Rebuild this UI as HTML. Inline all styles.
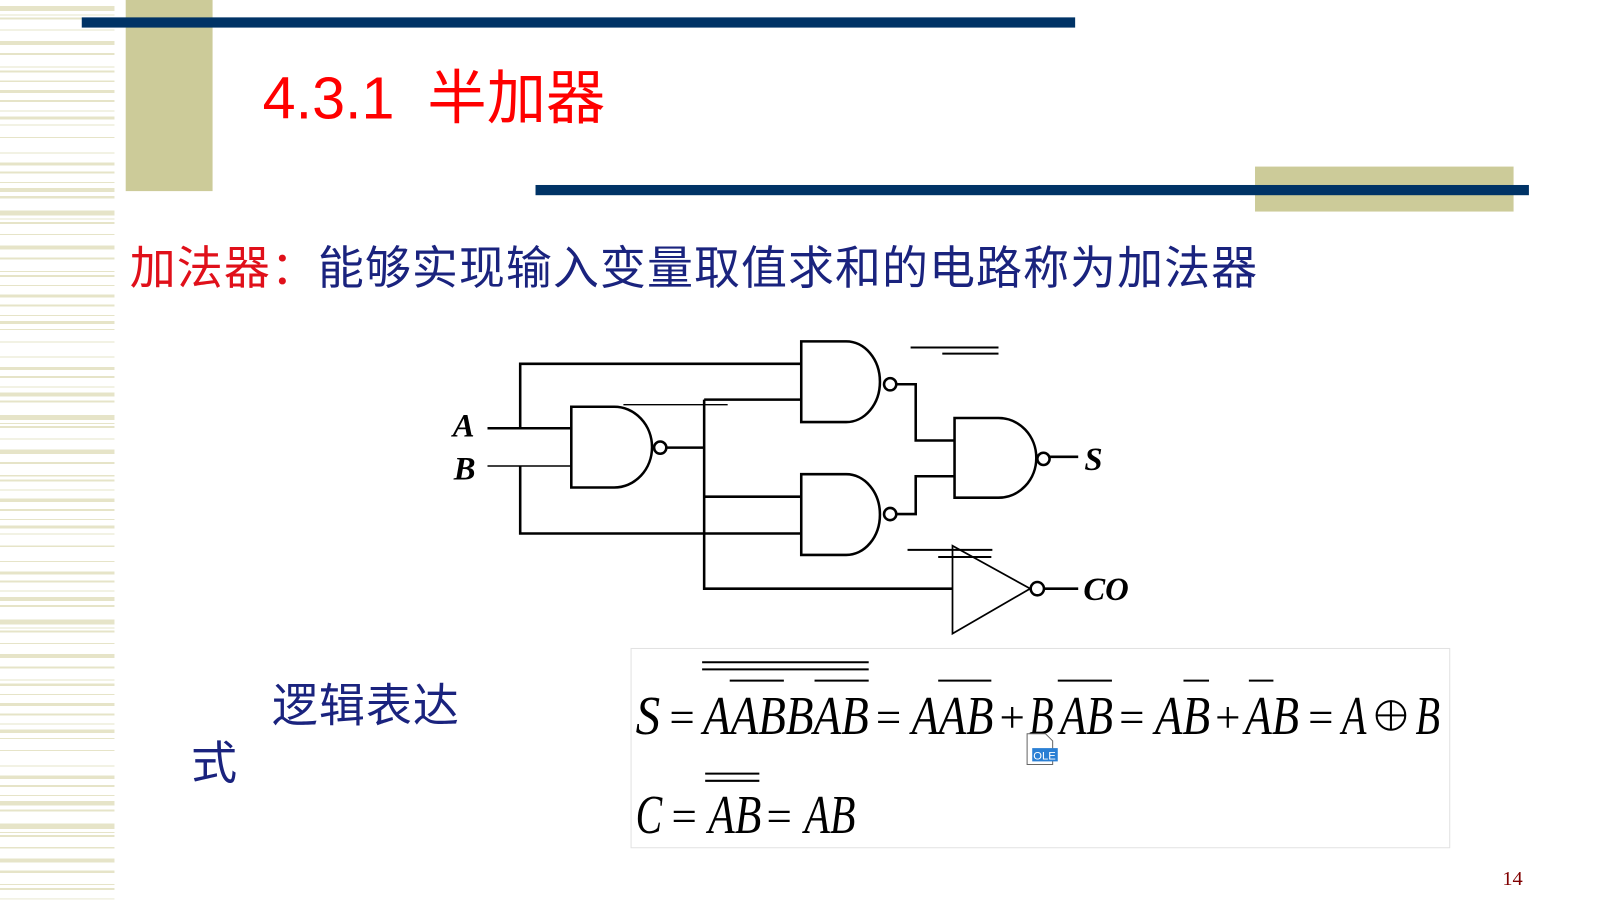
<!DOCTYPE html>
<html><head><meta charset="utf-8"><style>
html,body{margin:0;padding:0;background:#fff;}
body{width:1600px;height:900px;position:relative;overflow:hidden;font-family:"Liberation Sans","Noto Sans CJK SC",sans-serif;}
#wrap{position:absolute;left:0;top:0;width:1600px;height:900px;transform:scale(1.022);transform-origin:0 0;}
.stripes{position:absolute;left:0;top:0;width:112px;height:880px;
background:repeating-linear-gradient(to bottom,
#fff 0,#fff 6px,#e6e4c8 6px,#e6e4c8 11px,#fff 11px,#fff 14px,#e6e4c8 14px,#e6e4c8 15px,#fff 15px,#fff 17px,#e6e4c8 17px,#e6e4c8 19px,#fff 19px,#fff 29px,#e6e4c8 29px,#e6e4c8 30px,#fff 30px,#fff 40px,#e6e4c8 40px,#e6e4c8 44px,#fff 44px,#fff 52px,#e6e4c8 52px,#e6e4c8 54px,#fff 54px,#fff 65px,#e6e4c8 65px,#e6e4c8 66px,#fff 66px,#fff 69px,#e6e4c8 69px,#e6e4c8 71px,#fff 71px,#fff 79px,#e6e4c8 79px,#e6e4c8 80px,#fff 80px,#fff 88px,#e6e4c8 88px,#e6e4c8 91px,#fff 91px,#fff 98px,#e6e4c8 98px,#e6e4c8 100px,#fff 100px,#fff 108px,#e6e4c8 108px,#e6e4c8 109px,#fff 109px,#fff 114px,#e6e4c8 114px,#e6e4c8 117px,#fff 117px,#fff 122px,#e6e4c8 122px,#e6e4c8 123px,#fff 123px,#fff 134px,#e6e4c8 134px,#e6e4c8 135px,#fff 135px,#fff 149px,#e6e4c8 149px,#e6e4c8 150px,#fff 150px,#fff 159px,#e6e4c8 159px,#e6e4c8 162px,#fff 162px,#fff 168px,#e6e4c8 168px,#e6e4c8 170px,#fff 170px,#fff 178px,#e6e4c8 178px,#e6e4c8 179px,#fff 179px,#fff 184px,#e6e4c8 184px,#e6e4c8 188px,#fff 188px,#fff 192px,#e6e4c8 192px,#e6e4c8 194px,#fff 194px,#fff 200px);}
.abs{position:absolute;}
</style></head><body>
<div id="wrap">
<div class="stripes"></div>
<div class="abs" style="left:123px;top:0;width:85px;height:187px;background:#cccb99;"></div>
<div class="abs" style="left:80px;top:17px;width:972px;height:10px;background:#003366;"></div>
<div class="abs" style="left:1228px;top:163px;width:253px;height:44px;background:#cccb99;"></div>
<div class="abs" style="left:524px;top:181px;width:972px;height:10px;background:#003366;"></div>

<div class="abs" style="left:257px;top:62px;font-size:58px;color:#ff0000;white-space:nowrap;line-height:70px;">4.3.1&nbsp; 半加器</div>
<div class="abs" style="left:127px;top:234px;font-size:45px;color:#1a237e;white-space:nowrap;line-height:58px;letter-spacing:1px;"><span style="color:#e0101a">加法器：</span>能够实现输入变量取值求和的电路称为加法器</div>
<div class="abs" style="left:266px;top:662px;font-size:45px;color:#1a237e;line-height:58px;letter-spacing:1px;">逻辑表达</div>
<div class="abs" style="left:187px;top:718px;font-size:45px;color:#1a237e;line-height:58px;">式</div>

<div class="abs" style="left:617px;top:634px;width:800px;height:194px;border:1px solid #e2e2e2;"></div>

<svg class="abs" style="left:0;top:0" width="1600" height="900" xmlns="http://www.w3.org/2000/svg">
<g fill="none" stroke="#000" stroke-width="2.5">
 <path d="M477 419H559 M509 419V356H784 M509 456V522H784 M652 438H689 M689 391V576H932 M689 391H784 M689 486H784 M877 376H896V431H934 M877 503H896V466H934 M1027 447H1055 M1021 576H1055"/>
 <path d="M477 456H559" stroke-width="1.5"/>
 <path d="M610 396H712" stroke-width="1.3"/>
 <path d="M559 398H601A37 39.5 0 0 1 601 477H559Z"/>
 <circle cx="646" cy="438" r="6"/>
 <path d="M784 334H828A33 39.5 0 0 1 828 413H784Z"/>
 <circle cx="871" cy="376" r="6"/>
 <path d="M784 464H828A33 39.5 0 0 1 828 543H784Z"/>
 <circle cx="871" cy="503" r="6"/>
 <path d="M934 409H977A37 39 0 0 1 977 487H934Z"/>
 <circle cx="1021" cy="449" r="6"/>
 <path d="M932 534L1008 576L932 620Z" stroke-width="1.7"/>
 <circle cx="1015" cy="576" r="6.5"/>
 <path d="M891 340H977 M922 346H977 M888 538H971 M918 545H970" stroke-width="2"/>
</g>
<g font-family="Liberation Serif,serif" font-style="italic" font-weight="bold" font-size="32" fill="#000">
 <text x="443" y="427">A</text>
 <text x="444" y="469">B</text>
 <text x="1061" y="460">S</text>
 <text x="1060" y="587">CO</text>
</g>
<g font-family="Liberation Serif,serif" font-style="italic" font-size="54" fill="#000">
 <text x="622" y="718" textLength="24" lengthAdjust="spacingAndGlyphs">S</text>
 <text x="688" y="718" textLength="162" lengthAdjust="spacingAndGlyphs">AABBAB</text>
 <text x="892" y="718" textLength="80" lengthAdjust="spacingAndGlyphs">AAB</text>
 <text x="1007" y="718" textLength="24" lengthAdjust="spacingAndGlyphs">B</text>
 <text x="1037" y="718" textLength="52" lengthAdjust="spacingAndGlyphs">AB</text>
 <text x="1130" y="718" textLength="54" lengthAdjust="spacingAndGlyphs">AB</text>
 <text x="1218" y="718" textLength="53" lengthAdjust="spacingAndGlyphs">AB</text>
 <text x="1313" y="718" textLength="24" lengthAdjust="spacingAndGlyphs">A</text>
 <text x="1385" y="718" textLength="24" lengthAdjust="spacingAndGlyphs">B</text>
 <text x="622" y="815" textLength="26" lengthAdjust="spacingAndGlyphs">C</text>
 <text x="693" y="815" textLength="52" lengthAdjust="spacingAndGlyphs">AB</text>
 <text x="787" y="815" textLength="50" lengthAdjust="spacingAndGlyphs">AB</text>
</g>
<g font-family="Liberation Serif,serif" font-size="44" fill="#000">
 <text x="655" y="716">=</text><text x="857" y="716">=</text><text x="978" y="716">+</text>
 <text x="1095" y="716">=</text><text x="1189" y="716">+</text><text x="1280" y="716">=</text>
 <text x="657" y="813">=</text><text x="750" y="813">=</text>
</g>
<g fill="none" stroke="#000" stroke-width="2">
 <circle cx="1361" cy="700" r="14"/>
 <path d="M1347 700H1375 M1361 686V714"/>
 <path d="M687 648H850 M687 655H850 M714 666H767 M797 666H850 M918 666H970 M1035 666H1088 M1158 666H1183 M1222 666H1246 M690 757H743 M690 764H743"/>
</g>
<path d="M1005 718H1023L1030 725V748H1005Z" fill="#fff" stroke="#666" stroke-width="1"/>
<rect x="1010" y="732" width="25" height="13" fill="#2a7fd4"/>
<text x="1011" y="743" font-family="Liberation Sans,sans-serif" font-size="11" fill="#fff">OLE</text>
<text x="1470" y="866" font-family="Liberation Serif,serif" font-size="20" fill="#800000">14</text>
</svg>
</div>
</body></html>
